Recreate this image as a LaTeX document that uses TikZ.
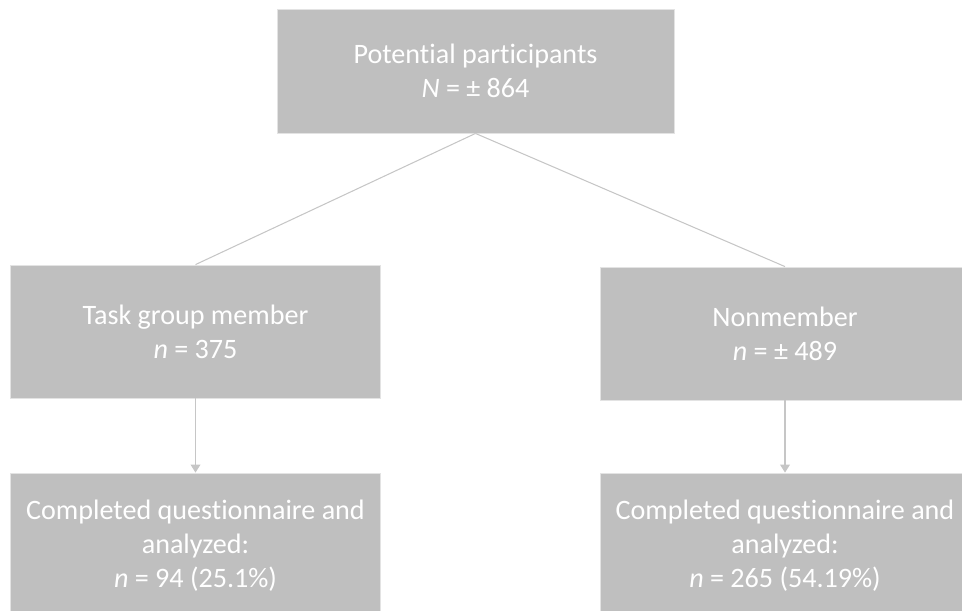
\documentclass[tikz,border=0pt]{standalone}
\usepackage{fontspec}
\setmainfont{Carlito}[Ligatures=NoCommon]
\usetikzlibrary{arrows.meta}
\usetikzlibrary{positioning}
\definecolor{boxgray}{HTML}{BFBFBF}
\definecolor{linegray}{HTML}{C6C6C6}

\begin{document}
\begin{tikzpicture}[x=0.02cm, y=-0.02cm,
    stage/.style={rectangle, fill=boxgray, draw=gray!22, line width=0.5pt, text=white,
        align=center, inner sep=0pt, minimum width=7.4cm,
        font=\fontsize{16}{19.3}\selectfont},
    link/.style={draw=linegray, line width=0.6pt}]
            \useasboundingbox (0,0) rectangle (962,610);
            \clip (0,0) rectangle (962,610);
            \node[stage, minimum width=7.94cm, minimum height=2.48cm] (P) at (475.5,71) {Potential participants\\\textit{N} = ± 864};
            \node[stage, minimum height=2.66cm] (M) at (195.5,331.5) {Task group member\\\textit{n} = 375};
            \node[stage, minimum height=2.66cm] (NM) at (785,333.5) {Nonmember\\\textit{n} = ± 489};
            \node[stage, minimum height=2.9cm] (MC) at (195.5,545.5) {Completed questionnaire and\\analyzed:\\\textit{n} = 94 (25.1\%)};
            \node[stage, minimum height=2.9cm] (NMC) at (785,545.5) {Completed questionnaire and\\analyzed:\\\textit{n} = 265 (54.19\%)};
    	    \draw[link] (P.south) -- (M.north);
    	    \draw[link] (P.south) -- (NM.north);
    	    \draw[link, -{Triangle[width=5.6pt, length=4.6pt]}] (M.south) -- (MC.north);
    	    \draw[link, -{Triangle[width=5.6pt, length=4.6pt]}] (NM.south) -- (NMC.north);
\end{tikzpicture}
\end{document}
